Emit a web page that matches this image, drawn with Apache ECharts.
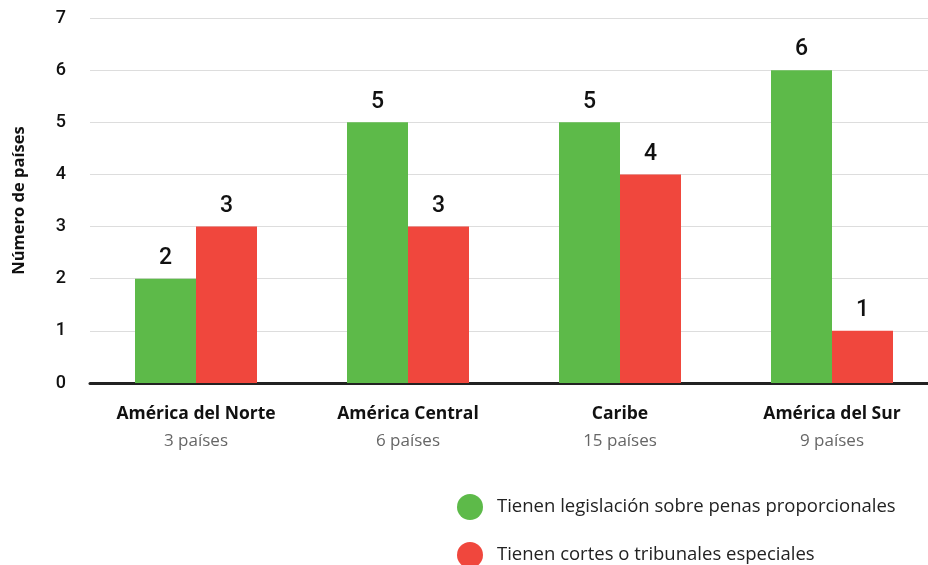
<!DOCTYPE html>
<html>
<head>
    <meta charset="utf-8">
    <title>ECharts</title>
    <script src="https://cdn.jsdelivr.net/npm/echarts@6/dist/echarts.min.js"></script>
</head>
<body style="margin:0;overflow:hidden">
    <!-- el gráfico original queda recortado a la derecha -->
    <div id="main" style="width: 940px;height:565px;"></div>
    <script type="text/javascript">
        var chartDom = document.getElementById('main');
        var myChart = echarts.init(chartDom);
        var option;

        var regions = ['América del Norte', 'América Central', 'Caribe', 'América del Sur'];
        var regionCounts = ['3 países', '6 países', '15 países', '9 países'];
        var legislacion = [2, 5, 5, 6];
        var tribunales = [3, 3, 4, 1];
        var seriesNames = ['Tienen legislación sobre penas proporcionales', 'Tienen cortes o tribunales especiales'];

        var labelStyle = {
            show: true,
            position: 'top',
            distance: 9,
            color: '#111',
            fontFamily: 'Roboto',
            fontSize: 23,
            fontWeight: 500
        };

        option = {
            animation: false,
            color: ['#5dba49', '#f0473d'],
            legend: {
                orient: 'vertical',
                left: 457,
                top: 494,
                height: 120,
                padding: 0,
                icon: 'circle',
                itemWidth: 26,
                itemHeight: 26,
                itemGap: 22,
                textStyle: {
                    fontFamily: 'Open Sans',
                    fontSize: 18.5,
                    color: '#222',
                    padding: [0, 0, 0, 9]
                },
                data: seriesNames
            },
            grid: {
                left: 90,
                top: 18,
                width: 848,
                height: 365
            },
            xAxis: {
                type: 'category',
                data: regions,
                axisTick: { show: false },
                axisLine: { lineStyle: { color: '#222', width: 3 } },
                axisLabel: {
                    margin: 17,
                    formatter: function (v, i) {
                        return '{a|' + v + '}\n{b|' + regionCounts[i] + '}';
                    },
                    rich: {
                        a: { fontFamily: 'Open Sans', fontWeight: 'bold', fontSize: 17.5, color: '#111', lineHeight: 28 },
                        b: { fontFamily: 'Open Sans', fontSize: 17, color: '#666', lineHeight: 27 }
                    }
                }
            },
            yAxis: {
                type: 'value',
                min: 0,
                max: 7,
                interval: 1,
                name: 'Número de países',
                nameLocation: 'middle',
                nameGap: 62,
                nameTextStyle: { fontFamily: 'Open Sans', fontWeight: 'bold', fontSize: 16.5, color: '#111' },
                axisLabel: { margin: 24, fontFamily: 'Roboto', fontWeight: 500, fontSize: 18, color: '#111' },
                splitLine: { lineStyle: { color: '#dddddd' } }
            },
            series: [{
                type: 'bar',
                name: seriesNames[0],
                data: legislacion,
                barWidth: 61,
                barGap: '0%',
                label: labelStyle
            }, {
                type: 'bar',
                name: seriesNames[1],
                data: tribunales,
                barWidth: 61,
                label: labelStyle
            }]
        };

        option && myChart.setOption(option);
    </script>
</body>
</html>
